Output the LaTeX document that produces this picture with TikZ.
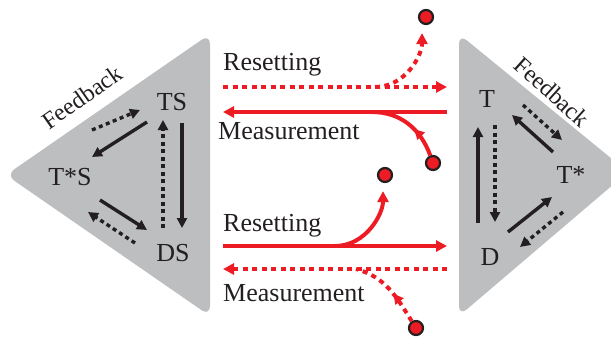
\documentclass[tikz,border=0pt]{standalone}
\usepackage{fontspec}
\setmainfont{Liberation Serif}
\usetikzlibrary{arrows.meta,positioning,calc,decorations.markings}
\definecolor{Panel}{HTML}{BCBEC0}
\definecolor{Signal}{HTML}{ED1C24}
\definecolor{Ink}{HTML}{231F20}

\begin{document}
\begin{tikzpicture}[x=1pt,y=-1pt,
    lbl/.style={font=\fontsize{26}{30}\selectfont,inner sep=0pt,text=Ink},
    tagtext/.style={font=\fontsize{26}{30}\selectfont,inner sep=0pt,anchor=base west,text=Ink},
    fb/.style={font=\fontsize{24}{28}\selectfont,inner sep=0pt,text=Ink},
    probe/.style={circle,draw=Ink,fill=Signal,line width=2.2pt,minimum size=14pt,inner sep=0pt},
    fbarrow/.style={line width=3.4pt,draw=Ink,-{Triangle[length=10pt,width=10pt]}},
    fbdash/.style={fbarrow,dash pattern=on 4pt off 3.5pt},
    sig/.style={line width=4pt,draw=Signal,-{Triangle[length=11pt,width=11pt]}},
    sigdash/.style={sig,dash pattern=on 5pt off 4.5pt},
    branch/.style={line width=4pt,draw=Signal},
    branchdash/.style={branch,dash pattern=on 5pt off 4.5pt},
    midhead/.style={postaction={decorate},decoration={markings,
        mark=at position #1 with {\arrow[Signal]{Triangle[length=10pt,width=10pt]}}}}
]
\useasboundingbox (0,0) rectangle (611,343);
\clip (0,0) rectangle (611,343);

% grey panels
\fill[Panel,rounded corners=10pt] (210,34) -- (210,316) -- (6,175) -- cycle;
\fill[Panel,rounded corners=10pt] (459,34) -- (459,316) -- (628,172) -- cycle;

% states
\node[lbl] (TS) at (172,102) {TS};
\node[lbl] (TSs) at (70,177) {T*S};
\node[lbl] (DS) at (173,253) {DS};
\node[lbl] (T) at (487,99) {T};
\node[lbl] (Ts) at (571,175) {T*};
\node[lbl] (D) at (490,257) {D};
\node[fb,rotate=35] (fbL) at (82,97) {Feedback};
\node[fb,rotate=-42] (fbR) at (552,92) {Feedback};

% feedback arrows, left
\draw[fbarrow] ([shift={(-25,20)}]TS.center) -- ([shift={(22,-20)}]TSs.center);
\draw[fbdash] ([shift={(22,-47)}]TSs.center) -- ([shift={(-32,8)}]TS.center);
\draw[fbarrow] ([shift={(10,21)}]TS.center) -- ([shift={(9,-25)}]DS.center);
\draw[fbdash] ([shift={(-10,-25)}]DS.center) -- ([shift={(-9,18)}]TS.center);
\draw[fbarrow] ([shift={(30,23)}]TSs.center) -- ([shift={(-26,-23)}]DS.center);
\draw[fbdash] ([shift={(-38,-10)}]DS.center) -- ([shift={(18,35)}]TSs.center);

% feedback arrows, right
\draw[fbarrow] ([shift={(-12,-34)}]D.center) -- ([shift={(-9,28)}]T.center);
\draw[fbdash] ([shift={(8,26)}]T.center) -- ([shift={(5,-35)}]D.center);
\draw[fbarrow] ([shift={(-18,-23)}]Ts.center) -- ([shift={(25,16)}]T.center);
\draw[fbdash] ([shift={(36,6)}]T.center) -- ([shift={(-9,-35)}]Ts.center);
\draw[fbarrow] ([shift={(18,-25)}]D.center) -- ([shift={(-19,22)}]Ts.center);
\draw[fbdash] ([shift={(-8,37)}]Ts.center) -- ([shift={(30,-10)}]D.center);

% channel
\node[probe] (dA) at (426,17) {};
\node[probe] (dB) at (433,163) {};
\node[probe] (dC) at (385,175) {};
\node[probe] (dD) at (416,328) {};

\coordinate (rA) at (223,87);
\coordinate (rB) at (447,87);
\coordinate (mA) at (447,112);
\coordinate (mB) at (223,112);
\coordinate (rC) at (223,246);
\coordinate (rD) at (447,246);
\coordinate (mC) at (447,269);
\coordinate (mD) at (223,269);
\coordinate (jA) at (375,87);
\coordinate (jB) at (372,112);
\coordinate (jC) at (335,246);
\coordinate (jD) at (356,269);

\draw[sigdash] (rA) -- (rB);
\draw[sigdash,shorten >=8pt] (jA) to[out=0,in=-90] ([xshift=-4pt]dA.south);
\draw[sig] (mA) -- (mB);
\draw[branch,midhead=0.4] (dB) to[out=110,in=0] (jB);
\draw[sig] (rC) -- (rD);
\draw[sig,shorten >=8pt] (jC) to[out=0,in=-90] ([xshift=-2pt]dC.south);
\draw[sigdash] (mC) -- (mD);
\draw[branchdash,midhead=0.42] (dD) to[out=122,in=-15] (jD);

\node[tagtext] (rsTop) at (223,70) {Resetting};
\node[tagtext] (msTop) at (218,139) {Measurement};
\node[tagtext] (rsBot) at (223,231) {Resetting};
\node[tagtext] (msBot) at (223,301) {Measurement};
\end{tikzpicture}
\end{document}
